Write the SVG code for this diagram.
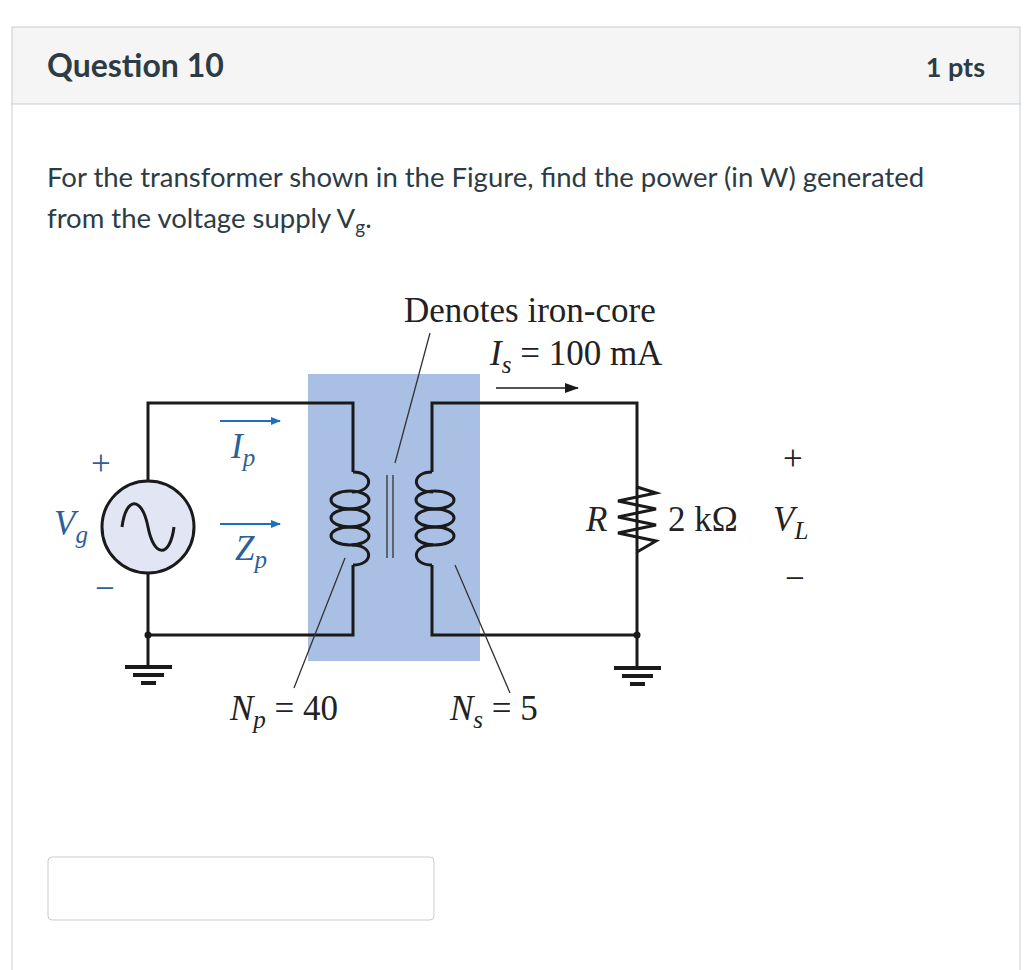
<svg xmlns="http://www.w3.org/2000/svg" width="1024" height="970" viewBox="0 0 1024 970">
<style>
.w{fill:none;stroke:#1a1a1a;stroke-width:3}
.t{font-family:"Liberation Serif",serif;font-size:35px;fill:#222}
.b{fill:#2d5f9a}
.s{font-family:Lato,"Liberation Sans",sans-serif;fill:#2d3b45}
.ld{stroke:#333;stroke-width:1.3;fill:none}
</style>
<defs>
<marker id="ab" markerWidth="10" markerHeight="8" refX="9" refY="4" orient="auto" markerUnits="userSpaceOnUse"><path d="M0,0L10,4L0,8z" fill="#1f6fc0"/></marker>
<marker id="ak" markerWidth="14" markerHeight="10" refX="13" refY="5" orient="auto" markerUnits="userSpaceOnUse"><path d="M0,0L14,5L0,10z" fill="#1a1a1a"/></marker>
</defs>
<rect width="1024" height="970" fill="#fff"/>
<g id="header">
<rect x="12" y="27" width="1008" height="77" fill="#f5f5f5" stroke="#c7cdd1"/>
<line x1="12" y1="104" x2="12" y2="970" stroke="#c7cdd1"/>
<line x1="1020" y1="104" x2="1020" y2="970" stroke="#c7cdd1"/>
<text x="47" y="77" class="s" font-size="32" font-weight="bold">Question 10</text>
<text x="985" y="77" class="s" font-size="27" font-weight="bold" text-anchor="end">1 pts</text>
</g>
<g id="question" class="s" font-size="27.5">
<text x="47" y="187">For the transformer shown in the Figure, find the power (in W) generated</text>
<text x="47" y="228">from the voltage supply V<tspan font-size="19" dy="6">g</tspan><tspan dy="-6">.</tspan></text>
</g>
<g id="core"><rect x="308" y="374" width="172" height="287" fill="#a9bfe4"/></g>
<g id="connectors">
<path class="w" d="M148,481V403H353V472 M148,573V635H353V565 M148,635V667"/>
<path class="w" d="M480,403H432V472 M432,565V635H637V403H480 M637,487V403 M637,552V635 M637,635V668"/>
<circle cx="148" cy="635" r="3.5" fill="#1a1a1a"/>
<circle cx="637" cy="635" r="3.5" fill="#1a1a1a"/>
<path d="M125,667H172M133,675H164M141,683H156" stroke="#1a1a1a" stroke-width="4"/>
<path d="M614,668H661M622,676H653M630,684H645" stroke="#1a1a1a" stroke-width="4"/>
<path class="ld" d="M387,475V558M393,475V558"/>
<line x1="496" y1="388" x2="578" y2="388" stroke="#1a1a1a" stroke-width="1.5" marker-end="url(#ak)"/>
<line x1="220" y1="421" x2="280" y2="421" stroke="#1f6fc0" stroke-width="1.8" marker-end="url(#ab)"/>
<line x1="220" y1="524" x2="280" y2="524" stroke="#1f6fc0" stroke-width="1.8" marker-end="url(#ab)"/>
<path class="ld" d="M430,333L395,463 M345,558L294,688 M455,565L510,693"/>
</g>
<g id="primary-coil" class="w">
<path d="M353,472C374,472 374,492 352,492"/>
<ellipse cx="350" cy="500" rx="19" ry="9"/>
<ellipse cx="350" cy="518" rx="19" ry="9"/>
<ellipse cx="350" cy="536" rx="19" ry="9"/>
<path d="M353,565C374,565 374,545 352,545"/>
</g>
<g id="secondary-coil" class="w">
<path d="M432,472C411,472 411,492 433,492"/>
<ellipse cx="435" cy="500" rx="19" ry="9"/>
<ellipse cx="435" cy="518" rx="19" ry="9"/>
<ellipse cx="435" cy="536" rx="19" ry="9"/>
<path d="M432,565C411,565 411,545 433,545"/>
</g>
<g id="source">
<circle cx="148" cy="527" r="46" fill="#e2e6f4" stroke="#1a1a1a" stroke-width="3"/>
<path d="M122,527C126,496 142,496 148,527C154,558 170,558 174,527" fill="none" stroke="#1a1a1a" stroke-width="3"/>
<text x="91" y="475" class="t b">+</text>
<text x="95" y="600" class="t b">−</text>
<text x="54" y="535" class="t b" font-style="italic">V<tspan font-size="25" dy="8">g</tspan></text>
<text x="231" y="458" class="t b" font-style="italic">I<tspan font-size="25" dy="8">p</tspan></text>
<text x="235" y="560" class="t b" font-style="italic">Z<tspan font-size="25" dy="8">p</tspan></text>
</g>
<g id="resistor">
<path d="M637,487L656,493L618,501L656,509L618,517L656,525L618,533L656,541L637,552" fill="none" stroke="#1a1a1a" stroke-width="3"/>
<text x="586" y="531" class="t" font-style="italic">R</text>
<text x="668" y="531" class="t">2 kΩ</text>
<text x="773" y="531" class="t" font-style="italic">V<tspan font-size="25" dy="8">L</tspan></text>
<text x="783" y="470" class="t">+</text>
<text x="785" y="590" class="t">−</text>
</g>
<g id="labels">
<text x="404" y="322" class="t">Denotes iron-core</text>
<text x="490" y="365" class="t"><tspan font-style="italic">I<tspan font-size="25" dy="8">s</tspan></tspan><tspan dy="-8"> = 100 mA</tspan></text>
<text x="230" y="720" class="t"><tspan font-style="italic">N<tspan font-size="25" dy="8">p</tspan></tspan><tspan dy="-8"> = 40</tspan></text>
<text x="450" y="720" class="t"><tspan font-style="italic">N<tspan font-size="25" dy="8">s</tspan></tspan><tspan dy="-8"> = 5</tspan></text>
</g>
<g id="answer"><rect x="48" y="857" width="386" height="63" rx="4" fill="#fff" stroke="#c7cdd1"/></g>
</svg>
